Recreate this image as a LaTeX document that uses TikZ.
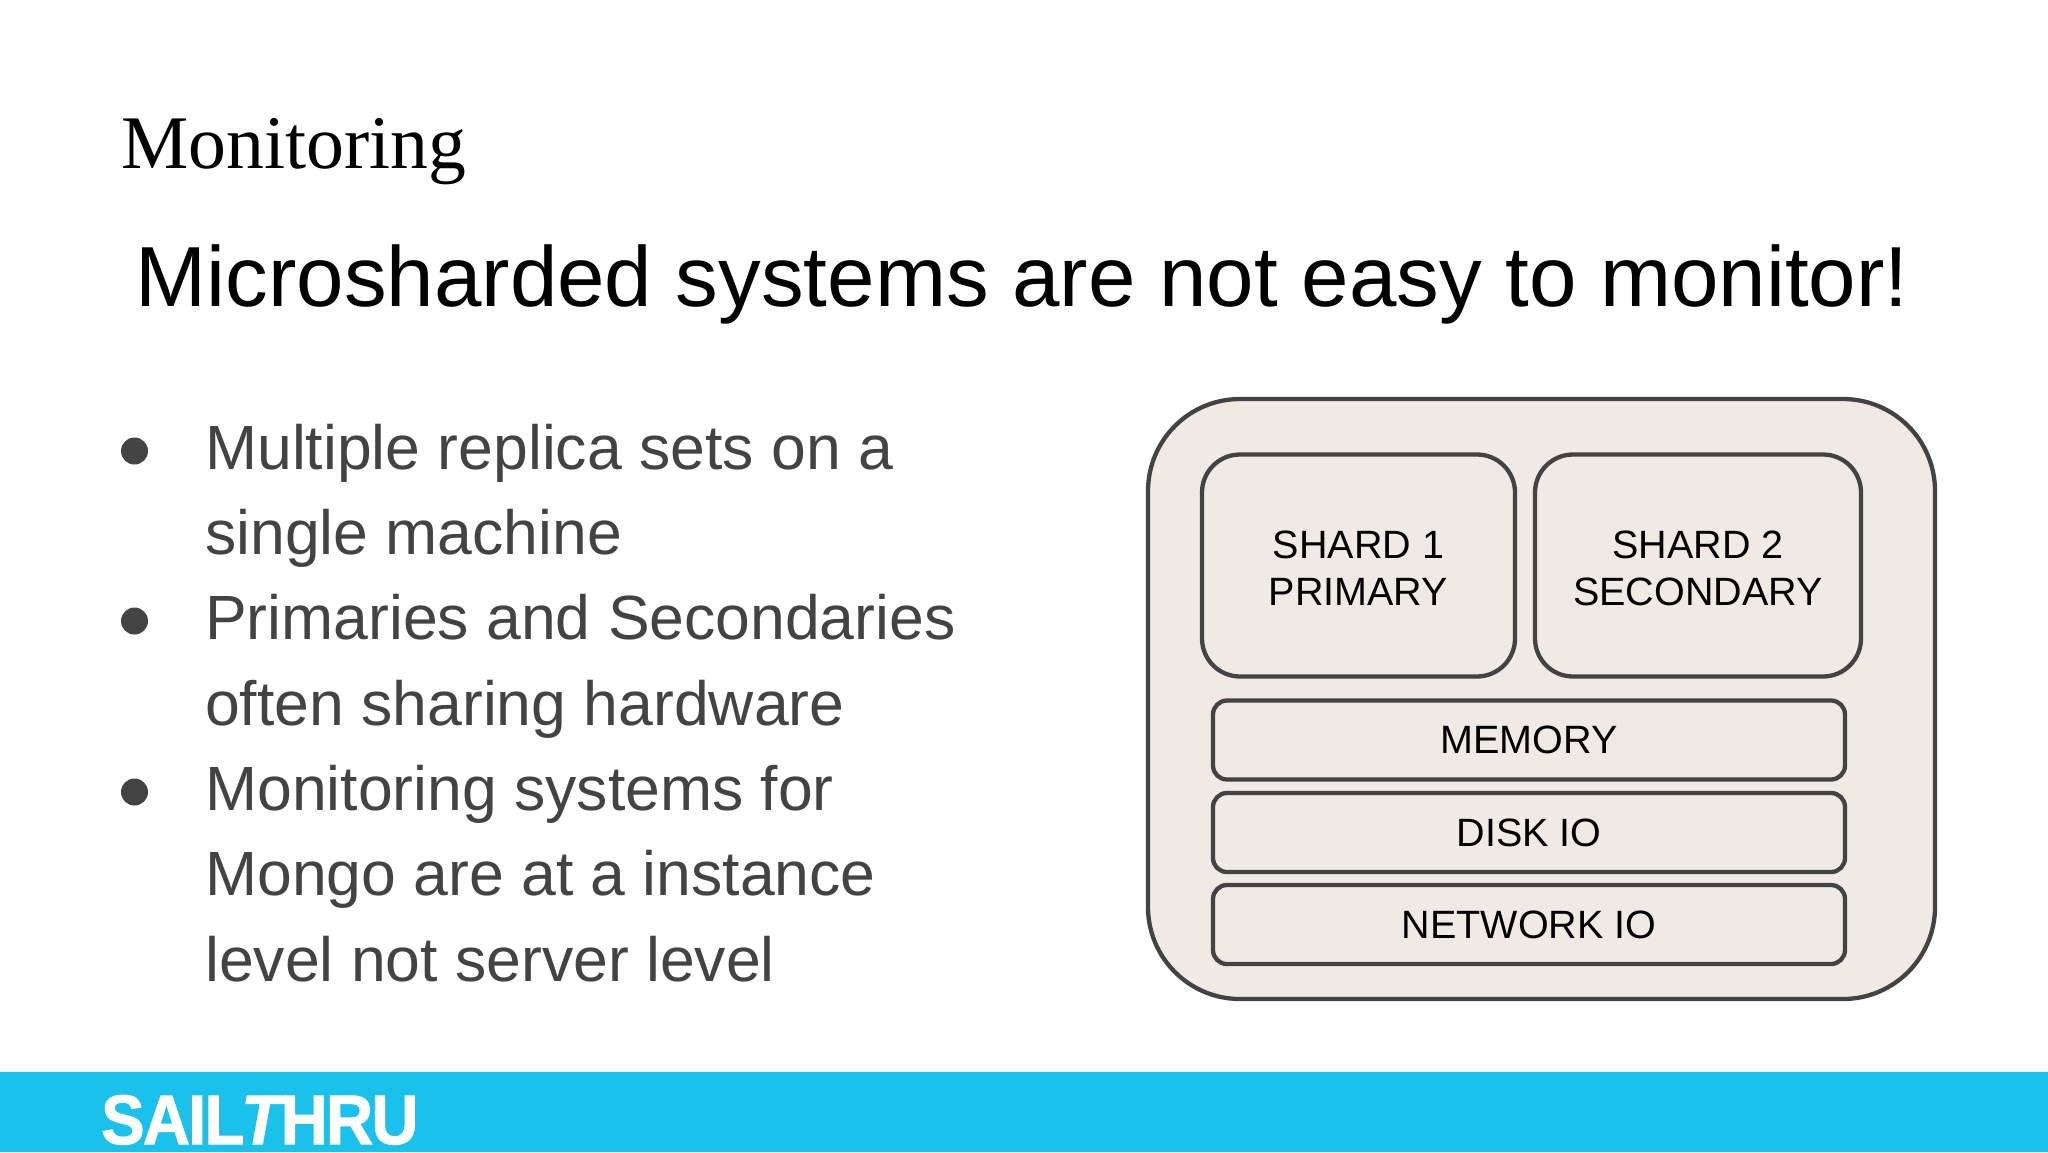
\documentclass[tikz,border=0pt]{standalone}
\usepackage{fontspec}
\setmainfont{Liberation Sans}
\newfontfamily\serifhead{Liberation Serif}
\newfontfamily\logofont{Liberation Sans}[UprightFont=* Bold,ItalicFont=* Bold Italic,FakeStretch=0.93,LetterSpace=-2.5,FakeBold=1.5]
\definecolor{band}{HTML}{1AC1EA}
\definecolor{boxfill}{HTML}{EFEBE4}
\definecolor{boxline}{HTML}{434343}
\tikzset{
  outerbox/.style={draw=boxline,fill=boxfill,line width=4.3pt,rounded corners=92pt,minimum width=787pt,minimum height=600pt,inner sep=0pt},
  shardbox/.style={draw=boxline,fill=boxfill,line width=4.3pt,rounded corners=38pt,minimum height=222pt,inner sep=0pt,align=center,font=\fontsize{39.5}{47}\selectfont},
  resbox/.style={draw=boxline,fill=boxfill,line width=4.3pt,rounded corners=14pt,minimum width=632pt,minimum height=79pt,inner sep=0pt,font=\fontsize{39.5}{47}\selectfont},
  bullettext/.style={anchor=base west,inner sep=0pt,text=boxline,font=\fontsize{62.5}{62.5}\selectfont},
  bulletdot/.style={circle,fill=boxline,minimum size=27pt,inner sep=0pt},
}
\begin{document}
\begin{tikzpicture}[x=1pt,y=-1pt]
\useasboundingbox (0,0) rectangle (2048,1152);
\fill[white] (0,0) rectangle (2048,1152);
\fill[band] (0,1072) rectangle (2048,1152);
\node[anchor=base west,inner sep=0pt,font=\serifhead\fontsize{75.7}{75.7}\selectfont] (title) at (121,168) {Monitoring};
\node[anchor=base west,inner sep=0pt,font=\fontsize{85.3}{85.3}\selectfont] (head) at (135.5,306) {Microsharded systems are not easy to monitor!};
\node[bulletdot] (b1) at (134.5,451) {};
\node[bulletdot] (b2) at (134.5,621) {};
\node[bulletdot] (b3) at (134.5,792) {};
\node[bullettext] (l1) at (205,469) {Multiple replica sets on a};
\node[bullettext] (l2) at (205,554.5) {single machine};
\node[bullettext] (l3) at (205,639.5) {Primaries and Secondaries};
\node[bullettext] (l4) at (205,725) {often sharing hardware};
\node[bullettext] (l5) at (205,810.5) {Monitoring systems for};
\node[bullettext] (l6) at (205,895.5) {Mongo are at a instance};
\node[bullettext] (l7) at (205,981) {level not server level};
\node[outerbox] (outer) at (1541.5,699) {};
\node[shardbox,minimum width=313pt] (s1) at (1358.5,565.5) {\rule{0pt}{33pt}SHARD 1\\PRIMARY};
\node[shardbox,minimum width=326pt] (s2) at (1698,565.5) {\rule{0pt}{33pt}SHARD 2\\SECONDARY};
\node[resbox] (mem) at (1529,740) {MEMORY};
\node[resbox] (disk) at (1529,832.5) {DISK IO};
\node[resbox] (net) at (1529,924.5) {NETWORK IO};
\node[anchor=base west,inner sep=0pt,text=white,font=\logofont\fontsize{70}{70}\selectfont] (logo) at (101,1144) {SAIL\kern-3pt\textit{T}\kern-3pt HRU};
\end{tikzpicture}
\end{document}
